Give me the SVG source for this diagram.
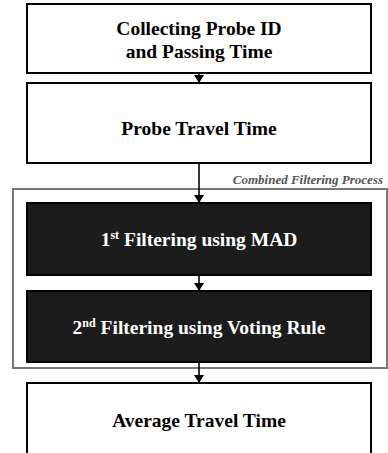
<svg xmlns="http://www.w3.org/2000/svg" width="388" height="453" viewBox="0 0 388 453">
<defs>
<marker id="ah" viewBox="0 0 8 10" refX="8" refY="5" markerWidth="8" markerHeight="10" markerUnits="userSpaceOnUse" orient="auto">
<path d="M0,0 L8,5 L0,10 Z" fill="#000"/>
</marker>
<style>
.box{fill:#fff;stroke:#000;stroke-width:2}
.dark{fill:#1c1c1c;stroke:#000;stroke-width:2}
.t{font-family:'Liberation Serif','DejaVu Serif',serif;font-weight:bold;font-size:19.5px;text-anchor:middle;fill:#000}
.w{fill:#fff}
.lab{font-family:'Liberation Serif','DejaVu Serif',serif;font-weight:bold;font-style:italic;font-size:13px;fill:#555}
.conn{stroke:#000;stroke-width:1.6;fill:none}
</style>
</defs>
<g id="group">
<rect x="13" y="189" width="374" height="179" fill="none" stroke="#777" stroke-width="2"/>
<text class="lab" x="383" y="184" text-anchor="end">Combined Filtering Process</text>
</g>
<g id="n1">
<rect class="box" x="27" y="4" width="344" height="69"/>
<text class="t" x="199" y="35">Collecting Probe ID</text>
<text class="t" x="199" y="57.5">and Passing Time</text>
</g>
<g id="n2">
<rect class="box" x="27" y="83" width="344" height="80"/>
<text class="t" x="199" y="135">Probe Travel Time</text>
</g>
<g id="n3">
<rect class="dark" x="27" y="203" width="344" height="72"/>
<text class="t w" x="199" y="246">1<tspan font-size="12" dy="-7">st</tspan><tspan dy="7"> Filtering using MAD</tspan></text>
</g>
<g id="n4">
<rect class="dark" x="27" y="291" width="344" height="71"/>
<text class="t w" x="199" y="334">2<tspan font-size="12" dy="-7">nd</tspan><tspan dy="7"> Filtering using Voting Rule</tspan></text>
</g>
<g id="n5">
<rect class="box" x="27" y="383" width="344" height="80"/>
<text class="t" x="199" y="427">Average Travel Time</text>
</g>
<g id="connectors">
<line class="conn" x1="199" y1="73" x2="199" y2="83" marker-end="url(#ah)"/>
<line class="conn" x1="199" y1="163" x2="199" y2="203" marker-end="url(#ah)"/>
<line class="conn" x1="199" y1="275" x2="199" y2="291" marker-end="url(#ah)"/>
<line class="conn" x1="199" y1="362" x2="199" y2="383" marker-end="url(#ah)"/>
</g>
</svg>
